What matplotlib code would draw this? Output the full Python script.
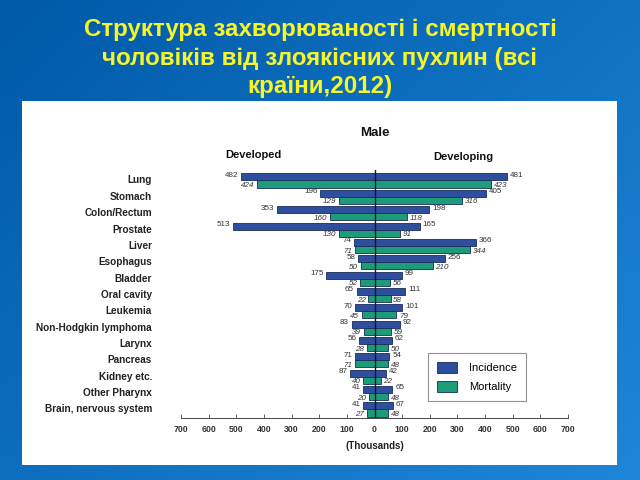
import numpy as np
import matplotlib
matplotlib.use("Agg")
import matplotlib.pyplot as plt
from matplotlib.patches import Rectangle, Patch

plt.rcParams['font.family'] = ['Liberation Sans', 'DejaVu Sans']

# ── Дані ──────────────────────────────────────────────────────────────────
sites = ['Lung', 'Stomach', 'Colon/Rectum', 'Prostate', 'Liver', 'Esophagus',
         'Bladder', 'Oral cavity', 'Leukemia', 'Non-Hodgkin lymphoma',
         'Larynx', 'Pancreas', 'Kidney etc.', 'Other Pharynx',
         'Brain, nervous system']
dev_inc = [482, 196, 353, 513, 74, 58, 175, 65, 70, 83, 56, 71, 87, 41, 41]
dev_mort = [424, 129, 160, 130, 71, 50, 52, 22, 45, 39, 28, 71, 40, 20, 27]
dvg_inc = [481, 405, 198, 165, 366, 256, 99, 111, 101, 92, 62, 54, 42, 65, 67]
dvg_mort = [423, 316, 118, 91, 344, 210, 56, 58, 79, 59, 50, 48, 22, 48, 48]
ticks = [-700, -600, -500, -400, -300, -200, -100, 0, 100, 200, 300, 400, 500, 600, 700]

title = ('Структура захворюваності і смертності\n'
         'чоловіків від злоякісних пухлин (всі\n'
         'країни,2012)')

c_inc = '#2d4f9e'
c_mort = '#1c9c78'
c_edge = '#1b2b5c'

fig = plt.figure(figsize=(6.4, 4.8), dpi=100)

# фон: синій градієнт
bg = fig.add_axes([0, 0, 1, 1])
gx, gy = np.meshgrid(np.linspace(0, 1, 200), np.linspace(0, 1, 200))
t = 0.55 * gx + 0.45 * gy
top = np.array([0x00, 0x5a, 0xa8]) / 255
bot = np.array([0x1e, 0x86, 0xd8]) / 255
img = top[None, None, :] * (1 - t[..., None]) + bot[None, None, :] * t[..., None]
bg.imshow(img, extent=[0, 1, 0, 1], aspect='auto', origin='upper')
bg.set_xlim(0, 1)
bg.set_ylim(0, 1)
bg.axis('off')
bg.add_patch(Rectangle((22 / 640, 1 - 465 / 480), (617 - 22) / 640, (465 - 101) / 480,
                       facecolor='white', edgecolor='none'))

fig.text(0.5, 1 - 58 / 480, title, ha='center', va='center', color='#f5f52a',
         fontsize=17.4, fontweight='bold', linespacing=1.33)

# ── Діаграма ─────────────────────────────────────────────────────────────
ax = fig.add_axes([181 / 640, 1 - 418 / 480, 387 / 640, (418 - 170) / 480])
ax.patch.set_alpha(0)
y = np.arange(len(sites))
h = 0.43
off = 0.215
inc_l = -np.array(dev_inc)
mort_l = -np.array(dev_mort)
ax.barh(y - off, inc_l, height=h, color=c_inc, edgecolor=c_edge, linewidth=0.6)
ax.barh(y + off, mort_l, height=h, color=c_mort, edgecolor=c_edge, linewidth=0.6)
ax.barh(y - off, dvg_inc, height=h, color=c_inc, edgecolor=c_edge, linewidth=0.6)
ax.barh(y + off, dvg_mort, height=h, color=c_mort, edgecolor=c_edge, linewidth=0.6)
ax.axvline(0, color='#10183a', linewidth=1.0)

ax.set_xlim(-700, 700)
ax.set_ylim(14.52, -0.64)

g = 10
for i in range(len(sites)):
    ax.text(-805, y[i], sites[i], ha='right', va='center', fontsize=7.2,
            fontweight='bold', color='#222222', clip_on=False)
    ax.text(-dev_inc[i] - g, y[i] - off - 0.1, str(dev_inc[i]), ha='right',
            va='center', fontsize=5.8, color='#333333')
    ax.text(-dev_mort[i] - g, y[i] + off + 0.1, str(dev_mort[i]), ha='right',
            va='center', fontsize=5.8, color='#333333', style='italic')
    ax.text(dvg_inc[i] + g, y[i] - off - 0.1, str(dvg_inc[i]), ha='left',
            va='center', fontsize=5.8, color='#333333')
    ax.text(dvg_mort[i] + g, y[i] + off + 0.1, str(dvg_mort[i]), ha='left',
            va='center', fontsize=5.8, color='#333333', style='italic')

for s in ['top', 'right', 'left']:
    ax.spines[s].set_visible(False)
ax.spines['bottom'].set_color('#444444')
ax.spines['bottom'].set_linewidth(0.7)
ax.set_yticks([])
ax.set_xticks(ticks)
ax.set_xticklabels([str(abs(v)) for v in ticks], fontsize=6.3, fontweight='bold',
                   color='#333333')
ax.tick_params(axis='x', direction='in', length=3, width=0.6, color='#444444', pad=5)

fig.text(375 / 640, 1 - 446 / 480, '(Thousands)', ha='center', va='center',
         fontsize=7, fontweight='bold', color='#222222')
fig.text(375 / 640, 1 - 133 / 480, 'Male', ha='center', va='center',
         fontsize=9.5, fontweight='bold', color='#111111')
fig.text(253 / 640, 1 - 155 / 480, 'Developed', ha='center', va='center',
         fontsize=8, fontweight='bold', color='#111111')
fig.text(463 / 640, 1 - 157 / 480, 'Developing', ha='center', va='center',
         fontsize=8, fontweight='bold', color='#111111')

handles = [Patch(facecolor=c_inc, edgecolor=c_edge, linewidth=0.6, label='Incidence'),
           Patch(facecolor=c_mort, edgecolor=c_edge, linewidth=0.6, label='Mortality')]
leg = ax.legend(handles=handles, loc='upper left',
                bbox_to_anchor=(428 / 640, 1 - 353 / 480), bbox_transform=fig.transFigure,
                fontsize=8, frameon=True, fancybox=False, handlelength=1.8,
                handleheight=1.1, labelspacing=0.75, borderpad=0.8, handletextpad=1.1,
                borderaxespad=0)
leg.get_frame().set_edgecolor('#777777')
leg.get_frame().set_linewidth(0.8)

plt.savefig('out.png', dpi=100)
